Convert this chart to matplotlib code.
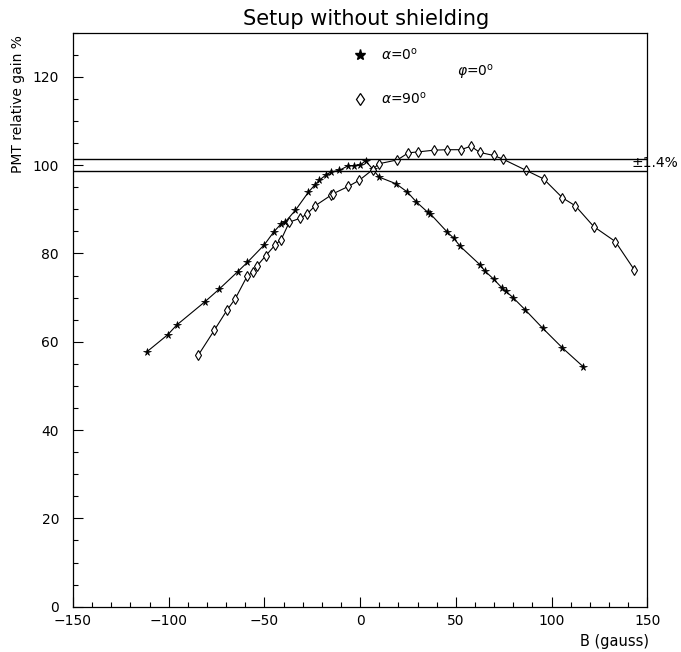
import matplotlib
matplotlib.use("Agg")
import matplotlib.pyplot as plt
from matplotlib.ticker import MultipleLocator

plt.rcParams['font.family'] = ['DejaVu Sans']
plt.rcParams['mathtext.fontset'] = 'dejavusans'

# alpha = 0 deg (stars)
b_a0 = [-111.5, -100.5, -95.8, -81.0, -73.7, -63.9, -58.9, -50.0, -45.1, -41.3,
        -39.0, -33.8, -27.0, -23.5, -21.3, -17.8, -15.0, -11.0, -6.1, -3.1,
        0.0, 2.8, 6.6, 9.9, 18.7, 24.7, 29.3, 35.4, 36.6, 45.6,
        48.8, 52.3, 62.7, 65.0, 69.7, 74.1, 76.3, 80.1, 86.3, 95.3,
        105.7, 116.4]
g_a0 = [57.7, 61.6, 63.8, 69.1, 71.9, 75.9, 78.0, 82.0, 84.9, 86.7,
        87.2, 89.8, 93.9, 95.6, 96.6, 97.8, 98.5, 98.8, 99.9, 99.9,
        100.0, 101.0, 99.1, 97.3, 95.8, 93.9, 91.7, 89.3, 89.0, 84.8,
        83.5, 81.6, 77.4, 76.1, 74.2, 72.2, 71.4, 69.9, 67.2, 63.1,
        58.6, 54.4]

# alpha = 90 deg (diamonds)
b_a90 = [-84.5, -76.2, -69.5, -65.3, -59.1, -56.1, -53.8, -49.3, -44.3, -41.3,
         -37.0, -31.2, -27.9, -23.5, -15.2, -14.3, -6.1, -0.4, 6.6, 9.6,
         19.5, 25.2, 30.2, 38.7, 45.6, 52.6, 57.9, 62.4, 69.7, 74.4,
         86.8, 95.8, 105.7, 112.4, 122.0, 133.3, 143.2]
g_a90 = [57.0, 62.6, 67.2, 69.7, 74.8, 75.8, 77.2, 79.5, 82.0, 83.1,
         87.1, 88.0, 88.9, 90.8, 93.2, 93.5, 95.2, 96.6, 99.0, 100.3,
         101.2, 102.8, 103.0, 103.4, 103.5, 103.5, 104.3, 102.9, 102.2, 101.4,
         98.8, 96.9, 92.6, 90.8, 86.1, 82.7, 76.3]

band = 1.4
xlim = (-150, 150)
ylim = (0, 130)

fig = plt.figure(figsize=(6.81, 6.52), dpi=100)
W, H = 681, 652
ax = fig.add_axes([73 / W, 1 - 606.7 / H, (647.3 - 73) / W, (606.7 - 32.7) / H])

ax.plot(b_a0, g_a0, '-', color='black', lw=0.8, marker='*', ms=5.5,
        mfc='black', mec='black', mew=0.5)
ax.plot(b_a90, g_a90, '-', color='black', lw=0.8, marker='d', ms=4.8,
        mfc='white', mec='black', mew=0.8)

ax.axhline(100 + band, color='black', lw=1.0)
ax.axhline(100 - band, color='black', lw=1.0)
ax.text(142.0, 100.5, '\u00b11.4%', fontsize=10, va='center', ha='left', clip_on=False)

# legend-like annotations
ax.plot([0], [125.0], '*', color='black', ms=8)
ax.text(10.8, 125.0, r'$\alpha$=0$^{\rm o}$', fontsize=10, va='center', ha='left')
ax.plot([0], [115.0], 'd', mfc='white', mec='black', ms=6.5, mew=0.9)
ax.text(10.8, 115.0, r'$\alpha$=90$^{\rm o}$', fontsize=10, va='center', ha='left')
ax.text(50.5, 120.9, r'$\varphi$=0$^{\rm o}$', fontsize=10, va='center', ha='left')

ax.set_xlim(*xlim)
ax.set_ylim(*ylim)
ax.xaxis.set_major_locator(MultipleLocator(50))
ax.xaxis.set_minor_locator(MultipleLocator(10))
ax.yaxis.set_major_locator(MultipleLocator(20))
ax.yaxis.set_minor_locator(MultipleLocator(5))
ax.tick_params(which='major', direction='in', length=7.2, width=0.8, labelsize=10)
ax.tick_params(which='minor', direction='in', length=3.6, width=0.8)
ax.tick_params(axis='x', which='major', pad=5)
ax.tick_params(axis='y', which='major', pad=10)
for s in ax.spines.values():
    s.set_linewidth(0.9)

fig.text(366 / W, 1 - 25 / H, 'Setup without shielding', fontsize=15,
         ha='center', va='baseline')
fig.text(649 / W, 1 - 646 / H, 'B (gauss)', fontsize=10.5, ha='right', va='baseline')
fig.text(18.3 / W, 1 - 35 / H, 'PMT relative gain %', fontsize=10, rotation=90,
         ha='center', va='top')

fig.savefig('out.png', dpi=100)
